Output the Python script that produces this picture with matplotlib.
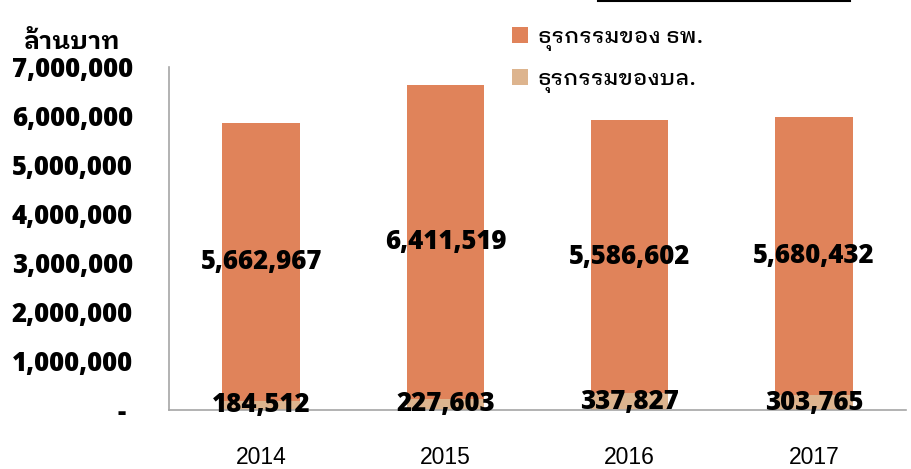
import matplotlib
matplotlib.use("Agg")
import matplotlib.pyplot as plt
from matplotlib.lines import Line2D
from matplotlib.ticker import FuncFormatter

# Data (million baht)
years = ['2014', '2015', '2016', '2017']
bank_business = [5662967, 6411519, 5586602, 5680432]
bl_business = [184512, 227603, 337827, 303765]
bank_label = 'ธุรกรรมของ ธพ.'
bl_label = 'ธุรกรรมของบล.'
unit_label = 'ล้านบาท'
yticks = [0, 1000000, 2000000, 3000000, 4000000, 5000000, 6000000, 7000000]

orange = '#E0835A'
tan = '#DDB48E'
num_font = ['Open Sans', 'DejaVu Sans']
thai_font = ['IBM Plex Sans Thai Looped', 'Noto Sans Thai Looped', 'DejaVu Sans']

fig = plt.figure(figsize=(9.11, 4.69), dpi=100)
ax = fig.add_axes([169 / 911, 59 / 469, 737 / 911, 343 / 469])

x = range(len(years))
bars_bl = ax.bar(x, bl_business, width=0.42, color=tan, label=bl_label)
bars_bank = ax.bar(x, bank_business, width=0.42, bottom=bl_business, color=orange, label=bank_label)

# Value labels centered in each segment
for bars in (bars_bank, bars_bl):
    lbls = ax.bar_label(bars, labels=[f'{v:,.0f}' for v in bars.datavalues],
                        label_type='center', fontsize=18.5, fontweight='heavy',
                        color='black')
    for t in lbls:
        t.set_family(num_font)

ax.set_xlim(-0.5, 3.5)
ax.set_ylim(0, 7000000)
ax.set_xticks(list(x))
ax.set_xticklabels(years, fontsize=16.5, family=['Liberation Sans', 'DejaVu Sans'])
ax.set_yticks(yticks)
ax.yaxis.set_major_formatter(FuncFormatter(lambda v, p: '- ' if v == 0 else f'{v:,.0f}'))
for t in ax.get_yticklabels():
    t.set_fontsize(18.5)
    t.set_fontweight('heavy')
    t.set_family(num_font)
ax.tick_params(axis='y', length=0, pad=26)
ax.tick_params(axis='x', length=0, pad=26)

for s in ('top', 'right'):
    ax.spines[s].set_visible(False)
for s in ('left', 'bottom'):
    ax.spines[s].set_color('#A6A6A6')
    ax.spines[s].set_linewidth(1.2)

# Unit label at top left
fig.text(71 / 911, 1 - 42 / 469, unit_label, ha='center', va='center',
         fontsize=18, fontweight='bold', family=thai_font)

# Legend at top right
fig.legend(handles=[bars_bank, bars_bl], labels=[bank_label, bl_label],
           loc='upper left', bbox_to_anchor=(492 / 911, 1 - 6 / 469),
           frameon=False, handlelength=0.7, handleheight=0.7,
           handletextpad=0.45, labelspacing=0.75,
           prop={'family': thai_font, 'size': 16, 'weight': 'medium'})

# Underline of the cut-off title at the top edge
fig.add_artist(Line2D([598 / 911, 850 / 911], [1 - 1 / 469, 1 - 1 / 469],
                      color='black', linewidth=1.5, transform=fig.transFigure))

fig.savefig('out.png', dpi=100)
